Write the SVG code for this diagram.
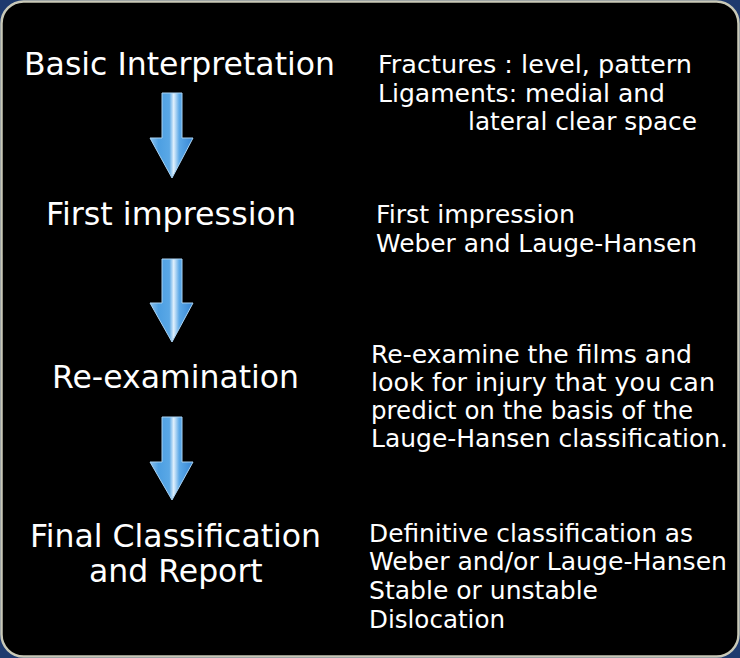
<svg xmlns="http://www.w3.org/2000/svg" width="740" height="658" viewBox="0 0 740 658">
<defs>
<linearGradient id="ag" x1="0" y1="0" x2="1" y2="0">
<stop offset="0" stop-color="#8cc2ee"/>
<stop offset="0.2" stop-color="#4d9fe2"/>
<stop offset="0.45" stop-color="#5aa8e6"/>
<stop offset="0.55" stop-color="#e0f0fc"/>
<stop offset="0.68" stop-color="#5ca9e8"/>
<stop offset="1" stop-color="#3584d2"/>
</linearGradient>
<style>
.h{font-family:"DejaVu Sans",Verdana,sans-serif;font-size:31.5px;fill:#ffffff}
.t{font-family:"DejaVu Sans",Verdana,sans-serif;font-size:25.2px;fill:#ffffff}
.arrow{fill:url(#ag);stroke:#a9d3f4;stroke-width:1}
</style>
</defs>
<rect x="0" y="0" width="740" height="658" fill="#1e3a6e"/>
<rect x="1.5" y="1.5" width="737" height="655" rx="22" ry="22" fill="#000000" stroke="#c9c9b8" stroke-width="2.5"/>
<g id="n1">
<text class="h" x="24" y="75">Basic Interpretation</text>
<text class="t" x="378" y="73" textLength="314" lengthAdjust="spacingAndGlyphs">Fractures : level, pattern</text>
<text class="t" x="378" y="102" textLength="287" lengthAdjust="spacingAndGlyphs">Ligaments: medial and</text>
<text class="t" x="468" y="130" textLength="229" lengthAdjust="spacingAndGlyphs">lateral clear space</text>
</g>
<g id="n2">
<text class="h" x="46" y="225" textLength="250" lengthAdjust="spacingAndGlyphs">First impression</text>
<text class="t" x="376" y="223" textLength="199" lengthAdjust="spacingAndGlyphs">First impression</text>
<text class="t" x="376" y="252" textLength="321" lengthAdjust="spacingAndGlyphs">Weber and Lauge-Hansen</text>
</g>
<g id="n3">
<text class="h" x="52" y="388">Re-examination</text>
<text class="t" x="371" y="363" textLength="321" lengthAdjust="spacingAndGlyphs">Re-examine the films and</text>
<text class="t" x="371" y="391" textLength="344" lengthAdjust="spacingAndGlyphs">look for injury that you can</text>
<text class="t" x="371" y="419" textLength="322" lengthAdjust="spacingAndGlyphs">predict on the basis of the</text>
<text class="t" x="371" y="447" textLength="357" lengthAdjust="spacingAndGlyphs">Lauge-Hansen classification.</text>
</g>
<g id="n4">
<text class="h" x="30" y="547">Final Classification</text>
<text class="h" x="89" y="582">and Report</text>
<text class="t" x="369" y="542" textLength="324" lengthAdjust="spacingAndGlyphs">Definitive classification as</text>
<text class="t" x="369" y="570" textLength="358" lengthAdjust="spacingAndGlyphs">Weber and/or Lauge-Hansen</text>
<text class="t" x="369" y="599" textLength="229" lengthAdjust="spacingAndGlyphs">Stable or unstable</text>
<text class="t" x="369" y="628" textLength="136" lengthAdjust="spacingAndGlyphs">Dislocation</text>
</g>
<g id="connectors">
<path class="arrow" d="M162,93 H182 V138 H193 L172,178 L150,138 H162 Z"/>
<path class="arrow" d="M162,259 H182 V303 H193 L172,342 L150,303 H162 Z"/>
<path class="arrow" d="M162,417 H182 V462 H193 L172,500 L150,462 H162 Z"/>
</g>
</svg>
